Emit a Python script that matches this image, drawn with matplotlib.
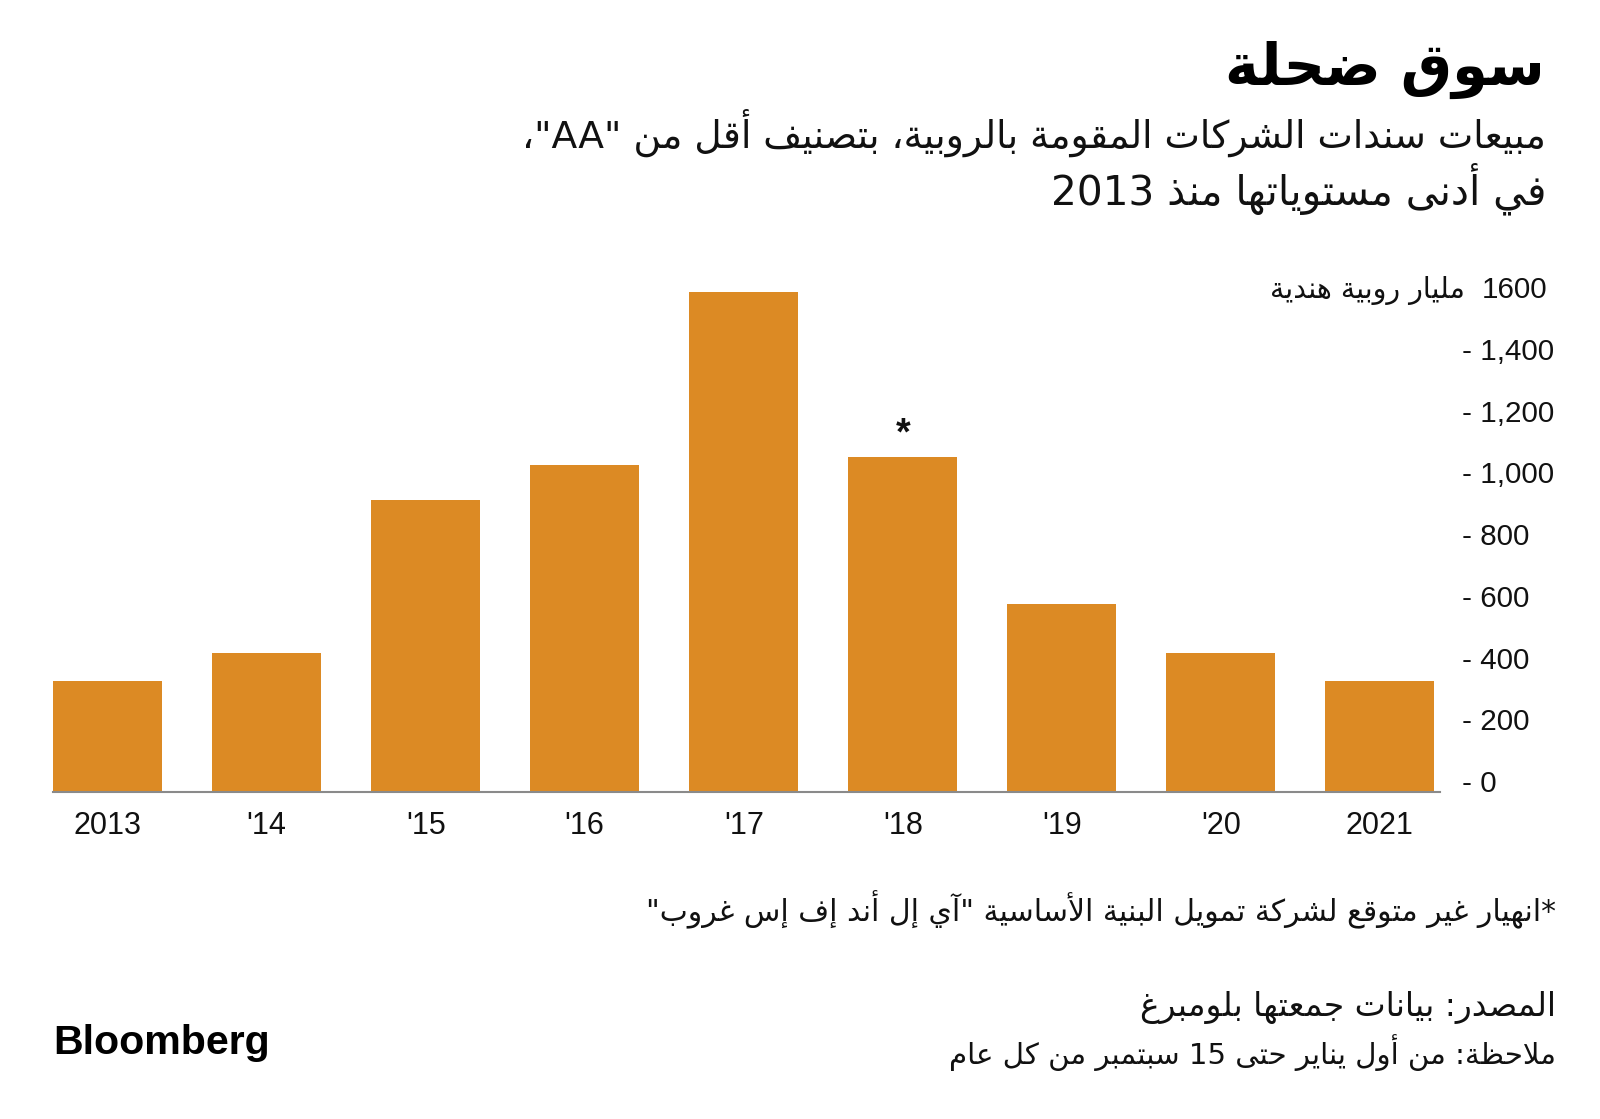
import matplotlib
matplotlib.use("Agg")
import matplotlib.pyplot as plt

# ---------------- data ----------------
years = ["2013", "'14", "'15", "'16", "'17", "'18", "'19", "'20", "2021"]
sales = [360, 450, 945, 1060, 1620, 1085, 610, 450, 360]
y_ticks = [0, 200, 400, 600, 800, 1000, 1200, 1400, 1600]
y_tick_labels = ["- 0", "- 200", "- 400", "- 600", "- 800", "- 1,000", "- 1,200", "- 1,400", "1600"]
unit_label = "مليار روبية هندية"
title = "سوق ضحلة"
subtitle_1 = 'مبيعات سندات الشركات المقومة بالروبية، بتصنيف أقل من "AA"،'
subtitle_2 = "في أدنى مستوياتها منذ 2013"
footnote = '*انهيار غير متوقع لشركة تمويل البنية الأساسية "آي إل أند إف إس غروب"'
source = "المصدر: بيانات جمعتها بلومبرغ"
note = "ملاحظة: من أول يناير حتى 15 سبتمبر من كل عام"
marked_index = 5  # '18 bar carries the asterisk

# ---------------- minimal Arabic shaping + bidi ----------------
TABLE = {0x0621: (0xFE80, 1), 0x0622: (0xFE81, 2), 0x0623: (0xFE83, 2), 0x0624: (0xFE85, 2),
         0x0625: (0xFE87, 2), 0x0626: (0xFE89, 4), 0x0627: (0xFE8D, 2), 0x0628: (0xFE8F, 4),
         0x0629: (0xFE93, 2), 0x062A: (0xFE95, 4), 0x062B: (0xFE99, 4), 0x062C: (0xFE9D, 4),
         0x062D: (0xFEA1, 4), 0x062E: (0xFEA5, 4), 0x062F: (0xFEA9, 2), 0x0630: (0xFEAB, 2),
         0x0631: (0xFEAD, 2), 0x0632: (0xFEAF, 2), 0x0633: (0xFEB1, 4), 0x0634: (0xFEB5, 4),
         0x0635: (0xFEB9, 4), 0x0636: (0xFEBD, 4), 0x0637: (0xFEC1, 4), 0x0638: (0xFEC5, 4),
         0x0639: (0xFEC9, 4), 0x063A: (0xFECD, 4), 0x0641: (0xFED1, 4), 0x0642: (0xFED5, 4),
         0x0643: (0xFED9, 4), 0x0644: (0xFEDD, 4), 0x0645: (0xFEE1, 4), 0x0646: (0xFEE5, 4),
         0x0647: (0xFEE9, 4), 0x0648: (0xFEED, 2), 0x0649: (0xFEEF, 2), 0x064A: (0xFEF1, 4)}
LAM_ALEF = {'\u0622': 0xFEF5, '\u0623': 0xFEF7, '\u0625': 0xFEF9, '\u0627': 0xFEFB}


def shape(s):
    items = []
    i = 0
    while i < len(s):
        c = s[i]
        if c == '\u0644' and i + 1 < len(s) and s[i + 1] in LAM_ALEF:
            items.append(('LA', s[i + 1]))
            i += 2
        else:
            items.append(('C', c))
            i += 1

    def nforms(it):
        if it is None:
            return 0
        if it[0] == 'LA':
            return 2
        return TABLE.get(ord(it[1]), (0, 0))[1]

    out = []
    for k, it in enumerate(items):
        prev = items[k - 1] if k > 0 else None
        nxt = items[k + 1] if k + 1 < len(items) else None
        nf = nforms(it)
        jp = nf >= 2 and nforms(prev) == 4
        if it[0] == 'LA':
            base = LAM_ALEF[it[1]]
            out.append(chr(base + 1 if jp else base))
            continue
        if nf == 0:
            out.append(it[1])
            continue
        base = TABLE[ord(it[1])][0]
        jn = nf == 4 and nforms(nxt) >= 2
        if nf == 1:
            out.append(chr(base))
        elif jp and jn:
            out.append(chr(base + 3))
        elif jp:
            out.append(chr(base + 1))
        elif jn:
            out.append(chr(base + 2))
        else:
            out.append(chr(base))
    return ''.join(out)


MIRROR = {'(': ')', ')': '(', '[': ']', ']': '[', '«': '»', '»': '«'}


def ar(s):
    t = shape(s)
    n = len(t)
    strong = [c.isascii() and c.isalnum() for c in t]
    ltr = list(strong)
    for i in range(1, n - 1):
        if t[i] in ',.' and strong[i - 1] and strong[i + 1]:
            ltr[i] = True
    runs = []
    for c, l in zip(t, ltr):
        if runs and runs[-1][0] == l:
            runs[-1][1].append(c)
        else:
            runs.append([l, [c]])
    vis = []
    for l, chars in reversed(runs):
        if l:
            vis.append(''.join(chars))
        else:
            vis.append(''.join(MIRROR.get(c, c) for c in reversed(chars)))
    return ''.join(vis)


# ---------------- figure ----------------
W, H = 1600, 1119
fig = plt.figure(figsize=(W / 100, H / 100), dpi=100)
fig.patch.set_facecolor("white")

AR_FONT = ["DejaVu Sans"]
NUM_FONT = ["Liberation Sans", "DejaVu Sans"]
BAR_COLOR = "#DC8A24"
TXT = "#111111"

ax_left, ax_right = 53 / W, 1440 / W
ax_bottom = 1 - 792 / H
ax_top = 1 - (792 - 1650 * 0.3086) / H
ax = fig.add_axes([ax_left, ax_bottom, ax_right - ax_left, ax_top - ax_bottom])

x = list(range(len(years)))
ax.bar(x, sales, width=0.686, color=BAR_COLOR, edgecolor="none", zorder=2)
ax.set_xlim(-0.343, 8.378)
ax.set_ylim(0, 1650)

for s in ["top", "left", "right"]:
    ax.spines[s].set_visible(False)
ax.spines["bottom"].set_color("#8a8a8a")
ax.spines["bottom"].set_linewidth(1.5)
ax.spines["bottom"].set_zorder(3)

ax.set_xticks(x)
ax.set_xticklabels(years, fontfamily=NUM_FONT, fontsize=22, color=TXT)
ax.tick_params(axis="x", length=0, pad=14)

ax.yaxis.tick_right()
ax.set_yticks(y_ticks)
ax.set_yticklabels(y_tick_labels, fontfamily=NUM_FONT, fontsize=21.3, color=TXT)
ax.tick_params(axis="y", length=0, pad=16)
ylabels = ax.get_yticklabels()
for lab in ylabels:
    lab.set_verticalalignment("baseline")
ylabels[-1].set_x(1 + 20 / (W * (ax_right - ax_left)))

unit_txt = ax.annotate(ar(unit_label), xy=(1, y_ticks[-1]), xycoords=("axes fraction", "data"),
                       xytext=(25, 0), textcoords="offset pixels", ha="right", va="baseline",
                       fontfamily=AR_FONT, fontsize=20, color=TXT, annotation_clip=False)

ax.annotate("*", xy=(marked_index, sales[marked_index]), xytext=(0, 13),
            textcoords="offset pixels", ha="center", va="baseline",
            fontfamily=NUM_FONT, fontweight="bold", fontsize=27, color=TXT)

# ---------------- header / footer texts ----------------
def ftext(xp, yp, s, **kw):
    return fig.text(xp / W, 1 - yp / H, s, **kw)

t_title = ftext(1545, 70, ar(title), ha="right", va="center", fontfamily=AR_FONT,
                fontweight="bold", fontsize=40, color="black")
t_sub1 = ftext(1546, 133, ar(subtitle_1), ha="right", va="center", fontfamily=AR_FONT,
               fontsize=26, color=TXT)
t_sub2 = ftext(1546, 189, ar(subtitle_2), ha="right", va="center", fontfamily=AR_FONT,
               fontsize=26, color=TXT)
t_foot = ftext(1556, 910, ar(footnote), ha="right", va="center", fontfamily=AR_FONT,
               fontsize=20, color=TXT)
t_src = ftext(1556, 1008, ar(source), ha="right", va="center", fontfamily=AR_FONT,
              fontsize=20, color=TXT)
t_note = ftext(1556, 1053, ar(note), ha="right", va="center", fontfamily=AR_FONT,
               fontsize=20, color=TXT)
t_logo = ftext(53, 1043, "Bloomberg", ha="left", va="center", fontfamily=NUM_FONT,
               fontweight="bold", fontsize=26, color="black")

fig.canvas.draw()
renderer = fig.canvas.get_renderer()
for t, target in [(t_title, 320), (t_sub1, 1026), (t_sub2, 495), (t_foot, 911),
                  (t_src, 415), (t_note, 607), (t_logo, 217), (unit_txt, 195)]:
    for _ in range(2):
        w = t.get_window_extent(renderer).width
        t.set_fontsize(t.get_fontsize() * target / w)

fig.savefig("out.png", dpi=100, facecolor="white")
